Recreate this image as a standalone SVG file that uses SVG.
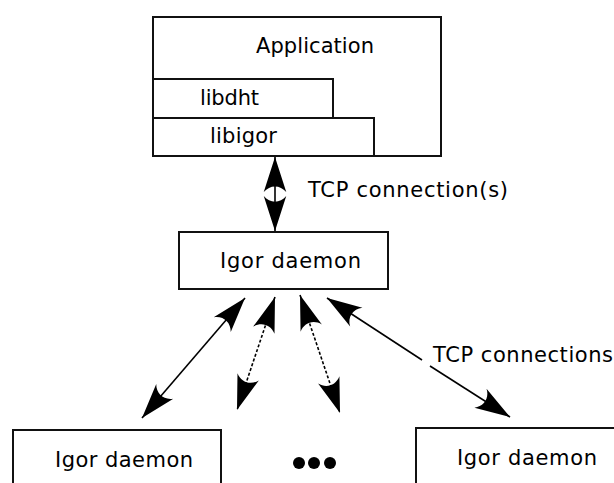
<svg xmlns="http://www.w3.org/2000/svg" width="614" height="483" viewBox="0 0 614 483">
<style>
.box{fill:#fff;stroke:#111;stroke-width:2}
.lbl{font-family:"DejaVu Sans",sans-serif;font-size:21px;fill:#000}
.ln{fill:none;stroke:#000;stroke-width:1.6}
.dash{stroke-dasharray:3,2}
</style>
<defs>
<marker id="ah" markerUnits="userSpaceOnUse" markerWidth="40" markerHeight="30" viewBox="-30 -12 32 24" refX="0" refY="0" orient="auto-start-reverse">
<path d="M0,0 L-28,-9 C-22,-4 -22,4 -28,9 Z" fill="#000"/>
</marker>
</defs>
<rect width="614" height="483" fill="#fff"/>
<g id="application">
<rect class="box" x="153" y="17" width="288" height="139"/>
<text class="lbl" x="256" y="53" textLength="118" lengthAdjust="spacing">Application</text>
</g>
<g id="libdht">
<rect class="box" x="153" y="79" width="180" height="39"/>
<text class="lbl" x="200" y="105" textLength="59" lengthAdjust="spacing">libdht</text>
</g>
<g id="libigor">
<rect class="box" x="153" y="118" width="221" height="38"/>
<text class="lbl" x="210" y="143" textLength="67" lengthAdjust="spacing">libigor</text>
</g>
<g id="daemon-main">
<rect class="box" x="179" y="232" width="209" height="57"/>
<text class="lbl" x="220" y="268" textLength="141" lengthAdjust="spacing">Igor daemon</text>
</g>
<g id="daemon-left">
<rect class="box" x="13" y="430" width="208" height="70"/>
<text class="lbl" x="55" y="467" textLength="138" lengthAdjust="spacing">Igor daemon</text>
</g>
<g id="daemon-right">
<rect class="box" x="416" y="428" width="210" height="70"/>
<text class="lbl" x="457" y="465" textLength="140" lengthAdjust="spacing">Igor daemon</text>
</g>
<g id="ellipsis">
<circle cx="299" cy="463" r="6"/>
<circle cx="314" cy="463" r="6"/>
<circle cx="330" cy="463" r="6"/>
</g>
<g id="connectors">
<line class="ln" x1="275" y1="157" x2="275" y2="231" marker-start="url(#ah)" marker-end="url(#ah)"/>
<line class="ln" x1="245" y1="298" x2="142" y2="418" marker-start="url(#ah)" marker-end="url(#ah)"/>
<line class="ln dash" x1="275" y1="297" x2="237" y2="410" marker-start="url(#ah)" marker-end="url(#ah)"/>
<line class="ln dash" x1="300" y1="295" x2="340" y2="413" marker-start="url(#ah)" marker-end="url(#ah)"/>
<line class="ln" x1="327" y1="298" x2="422" y2="360" marker-start="url(#ah)"/>
<line class="ln" x1="430" y1="366" x2="510" y2="417" marker-end="url(#ah)"/>
<text class="lbl" x="308" y="197" textLength="200" lengthAdjust="spacing">TCP connection(s)</text>
<text class="lbl" x="433" y="362" textLength="180" lengthAdjust="spacing">TCP connections</text>
</g>
</svg>
